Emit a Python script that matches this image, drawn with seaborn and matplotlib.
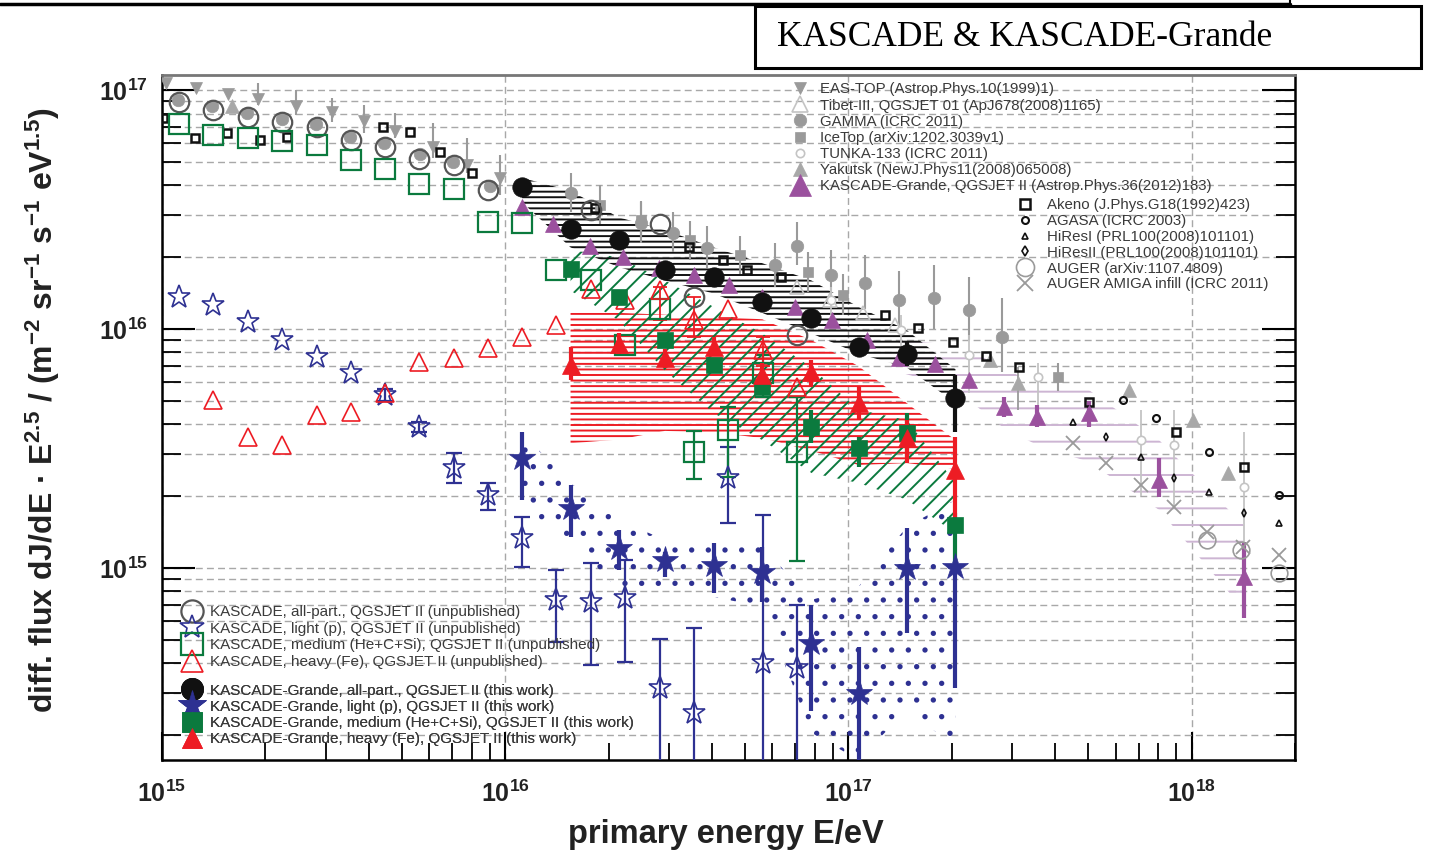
import numpy as np
import matplotlib
matplotlib.use('Agg')
import matplotlib.pyplot as plt
import seaborn as sns
from matplotlib.lines import Line2D
from matplotlib.patches import Rectangle
from matplotlib.ticker import LogLocator, NullFormatter, LogFormatterMathtext

sns.set_theme(style='white')
plt.rcParams['font.family'] = ['Liberation Sans', 'DejaVu Sans']
plt.rcParams['mathtext.fontset'] = 'custom'
plt.rcParams['mathtext.rm'] = 'Liberation Sans'
plt.rcParams['mathtext.it'] = 'Liberation Sans:italic'
plt.rcParams['mathtext.bf'] = 'Liberation Sans:bold'
plt.rcParams['mathtext.default'] = 'regular'
plt.rcParams['hatch.linewidth'] = 1.4

# ---------------- data ----------------
# KASCADE (unpublished) bins
kas_E = [1.12e15, 1.41e15, 1.78e15, 2.24e15, 2.82e15, 3.55e15, 4.47e15, 5.62e15, 7.08e15, 8.91e15,
         1.12e16, 1.41e16, 1.78e16, 2.24e16, 2.82e16, 3.55e16, 4.47e16, 5.62e16, 7.08e16]
kas_all_E = [1.12e15, 1.41e15, 1.78e15, 2.24e15, 2.82e15, 3.55e15, 4.47e15, 5.62e15, 7.08e15, 8.91e15,
             1.78e16, 2.82e16, 3.55e16, 7.08e16]
kas_all_F = [8.91e16, 8.24e16, 7.73e16, 7.36e16, 7.02e16, 6.18e16, 5.79e16, 5.18e16, 4.85e16, 3.82e16,
             3.15e16, 2.77e16, 1.37e16, 9.45e15]
kas_light_F = [1.36e16, 1.26e16, 1.07e16, 9.0e15, 7.66e15, 6.53e15, 5.30e15, 3.90e15, 2.61e15, 2.02e15,
               1.33e15, 7.35e14, 7.23e14, 7.46e14, 3.14e14, 2.47e14, 2.37e15, 3.99e14, 3.80e14]
kas_light_lo = [1.36e16, 1.26e16, 1.07e16, 9.0e15, 7.66e15, 6.53e15, 5.0e15, 3.7e15, 2.27e15, 1.75e15,
                1.01e15, 4.92e14, 3.93e14, 4.04e14, 1e14, 1e14, 1.54e15, 1e14, 1e14]
kas_light_hi = [1.36e16, 1.26e16, 1.07e16, 9.0e15, 7.66e15, 6.53e15, 5.6e15, 4.1e15, 3.03e15, 2.27e15,
                1.64e15, 9.8e14, 1.05e15, 1.08e15, 5.05e14, 5.61e14, 3.22e15, 1.67e15, 7.0e14]
kas_med_F = [7.26e16, 6.49e16, 6.34e16, 6.14e16, 5.89e16, 5.13e16, 4.70e16, 4.07e16, 3.85e16, 2.81e16,
             2.78e16, 1.77e16, 1.60e16, 8.57e15, 1.22e16, 3.07e15, 3.78e15, 6.53e15, 3.07e15]
kas_med_lo = [7.26e16, 6.49e16, 6.34e16, 6.14e16, 5.89e16, 5.13e16, 4.70e16, 4.07e16, 3.85e16, 2.81e16,
              2.78e16, 1.77e16, 1.60e16, 8.57e15, 1.22e16, 2.35e15, 2.4e15, 5.2e15, 1.07e15]
kas_med_hi = [7.26e16, 6.49e16, 6.34e16, 6.14e16, 5.89e16, 5.13e16, 4.70e16, 4.07e16, 3.85e16, 2.81e16,
              2.78e16, 1.77e16, 1.60e16, 8.57e15, 1.22e16, 3.74e15, 4.7e15, 7.8e15, 5.2e15]
kas_heavy_E = [1.41e15, 1.78e15, 2.24e15, 2.82e15, 3.55e15, 4.47e15, 5.62e15, 7.08e15, 8.91e15,
               1.12e16, 1.41e16, 1.78e16, 2.24e16, 2.82e16, 3.55e16, 4.47e16, 5.62e16, 7.08e16]
kas_heavy_F = [5.05e15, 3.53e15, 3.27e15, 4.37e15, 4.50e15, 5.40e15, 7.28e15, 7.56e15, 8.34e15,
               9.27e15, 1.04e16, 1.48e16, 1.32e16, 1.46e16, 1.09e16, 1.22e16, 8.17e15, 5.72e15]
kas_heavy_lo = [5.05e15, 3.53e15, 3.27e15, 4.37e15, 4.50e15, 5.40e15, 7.28e15, 7.56e15, 8.34e15,
                9.27e15, 1.04e16, 1.48e16, 1.32e16, 1.09e16, 9.3e15, 1.22e16, 7.0e15, 5.72e15]
kas_heavy_hi = [5.05e15, 3.53e15, 3.27e15, 4.37e15, 4.50e15, 5.40e15, 7.28e15, 7.56e15, 8.34e15,
                9.27e15, 1.04e16, 1.48e16, 1.32e16, 1.5e16, 1.37e16, 1.22e16, 9.3e15, 5.72e15]

# KASCADE-Grande (this work)
gr_E = [1.12e16, 1.55e16, 2.14e16, 2.92e16, 4.05e16, 5.61e16, 7.80e16, 1.07e17, 1.48e17, 2.05e17]
gr_all_F = [3.94e16, 2.64e16, 2.36e16, 1.77e16, 1.66e16, 1.30e16, 1.11e16, 8.43e15, 7.91e15, 5.13e15]
gr_all_lo = [3.85e16, 2.58e16, 2.30e16, 1.73e16, 1.61e16, 1.25e16, 1.05e16, 7.8e15, 7.0e15, 3.72e15]
gr_all_hi = [4.05e16, 2.70e16, 2.42e16, 1.82e16, 1.71e16, 1.35e16, 1.17e16, 9.1e15, 8.9e15, 6.43e15]
gr_all_band_hi = [4.3e16, 3.8e16, 2.94e16, 2.6e16, 2.2e16, 1.89e16, 1.6e16, 1.24e16, 9.9e15, 6.8e15]
gr_all_band_lo = [3.4e16, 2.2e16, 1.82e16, 1.6e16, 1.41e16, 1.17e16, 9.6e15, 7.9e15, 6.9e15, 4.9e15]

gr_light_F = [2.88e15, 1.78e15, 1.21e15, 1.08e15, 1.03e15, 9.66e14, 4.84e14, 2.99e14, 9.98e14, 1.01e15]
gr_light_lo = [1.93e15, 1.35e15, 9.8e14, 9.2e14, 7.83e14, 7.23e14, 2.51e14, 1e14, 5.33e14, 3.14e14]
gr_light_hi = [3.72e15, 2.22e15, 1.44e15, 1.17e15, 1.27e15, 1.23e15, 7.0e14, 4.69e14, 1.47e15, 1.05e15]
gr_light_band_hi = [3.67e15, 2.27e15, 1.59e15, 1.31e15, 1.27e15, 1.23e15, 7.35e14, 8.34e14, 1.49e15, 1.93e15]
gr_light_band_lo = [1.75e15, 1.31e15, 8.09e14, 7.85e14, 7.57e14, 6.87e14, 2.04e14, 1.57e14, 2.55e14, 1.78e14]

gr_mh_E = [1.55e16, 2.14e16, 2.92e16, 4.05e16, 5.61e16, 7.80e16, 1.07e17, 1.48e17, 2.05e17]
gr_med_F = [1.79e16, 1.37e16, 8.99e15, 7.07e15, 5.74e15, 3.90e15, 3.17e15, 3.66e15, 1.51e15]
gr_med_lo = [1.72e16, 1.31e16, 8.5e15, 6.7e15, 5.3e15, 3.33e15, 2.64e15, 2.91e15, 1.05e15]
gr_med_hi = [1.86e16, 1.43e16, 9.5e15, 7.5e15, 6.2e15, 4.6e15, 3.53e15, 4.45e15, 1.70e15]
gr_med_band_hi = [2.14e16, 2.0e16, 1.6e16, 1.24e16, 9.6e15, 6.9e15, 4.6e15, 4.16e15, 2.27e15]
gr_med_band_lo = [1.45e16, 1.09e16, 6.7e15, 4.45e15, 3.43e15, 2.5e15, 2.27e15, 1.93e15, 1.4e15]

gr_heavy_F = [7.07e15, 8.71e15, 7.54e15, 8.43e15, 6.43e15, 6.64e15, 4.89e15, 3.49e15, 2.57e15]
gr_heavy_lo = [6.12e15, 7.9e15, 6.9e15, 7.7e15, 5.8e15, 5.73e15, 4.16e15, 2.75e15, 1.54e15]
gr_heavy_hi = [8.43e15, 9.6e15, 8.3e15, 9.3e15, 7.2e15, 7.4e15, 5.73e15, 4.16e15, 3.54e15]
gr_heavy_band_hi = [1.17e16, 1.17e16, 1.15e16, 1.13e16, 1.1e16, 9.0e15, 7.0e15, 4.9e15, 3.43e15]
gr_heavy_band_lo = [3.33e15, 3.45e15, 3.75e15, 3.7e15, 3.5e15, 3.1e15, 2.7e15, 2.75e15, 2.6e15]

# KASCADE-Grande 2012 (Astrop.Phys.36)
kg12_E = [1.12e16, 1.38e16, 1.77e16, 2.21e16, 2.80e16, 3.54e16, 4.48e16, 5.61e16, 7.00e16, 8.96e16,
          1.13e17, 1.40e17, 1.79e17, 2.24e17, 2.84e17, 3.55e17, 5.02e17, 8.04e17, 1.42e18]
kg12_F = [3.25e16, 2.77e16, 2.24e16, 2.01e16, 1.80e16, 1.68e16, 1.53e16, 1.37e16, 1.24e16, 1.09e16,
          8.99e15, 7.54e15, 7.18e15, 6.12e15, 4.73e15, 4.30e15, 4.44e15, 2.33e15, 9.21e14]
kg12_lo = [3.25e16, 2.77e16, 2.24e16, 2.01e16, 1.80e16, 1.68e16, 1.53e16, 1.37e16, 1.24e16, 1.09e16,
           8.99e15, 7.54e15, 7.18e15, 6.12e15, 4.3e15, 3.9e15, 3.9e15, 1.98e15, 6.18e14]
kg12_hi = [3.25e16, 2.77e16, 2.24e16, 2.01e16, 1.80e16, 1.68e16, 1.53e16, 1.37e16, 1.24e16, 1.09e16,
           8.99e15, 7.54e15, 7.18e15, 6.12e15, 5.2e15, 4.8e15, 5.0e15, 2.88e15, 1.29e15]
kg12_band_E = [1.40e17, 1.79e17, 2.24e17, 2.84e17, 3.55e17, 5.02e17, 8.04e17, 1.42e18]
kg12_band_hi = [9.0e15, 8.74e15, 8.17e15, 6.87e15, 5.83e15, 5.56e15, 3.43e15, 1.51e15]
kg12_band_lo = [6.61e15, 6.0e15, 5.05e15, 3.85e15, 3.27e15, 2.78e15, 1.75e15, 6.67e14]

# other experiments
eastop_E = [1.03e15, 1.26e15, 1.56e15, 1.90e15, 2.46e15, 3.13e15, 3.88e15, 4.78e15, 6.17e15, 7.75e15, 9.66e15]
eastop_F = [1.07e17, 1.02e17, 9.62e16, 9.16e16, 8.57e16, 8.09e16, 7.41e16, 6.73e16, 5.78e16, 4.85e16, 4.28e16]
eastop_lo = [1.07e17, 1.02e17, 9.62e16, 8.65e16, 7.85e16, 7.36e16, 6.61e16, 6.3e16, 5.2e16, 4.5e16, 3.63e16]
eastop_hi = [1.07e17, 1.02e17, 9.62e16, 1.07e17, 1.0e17, 9.27e16, 8.65e16, 8.01e16, 7.28e16, 6.3e16, 5.34e16]

tibet_E = [7.10e16, 8.86e16, 1.10e17, 1.37e17]
tibet_F = [1.50e16, 1.32e16, 1.17e16, 1.04e16]

gamma_E = [1.11e15, 1.40e15, 1.77e15, 2.24e15, 2.81e15, 3.53e15, 4.44e15, 5.65e15, 7.05e15, 9.04e15,
           1.55e16, 2.48e16, 3.09e16, 3.88e16, 6.12e16, 7.10e16, 8.87e16, 1.12e17, 1.40e17, 1.77e17,
           2.24e17, 2.81e17]
gamma_F = [9.08e16, 8.57e16, 8.01e16, 7.57e16, 7.21e16, 6.35e16, 6.00e16, 5.40e16, 5.00e16, 3.97e16,
           3.71e16, 2.78e16, 2.52e16, 2.18e16, 1.85e16, 2.24e16, 1.68e16, 1.56e16, 1.32e16, 1.35e16,
           1.20e16, 9.27e15]
gamma_lo = [9.08e16, 8.57e16, 8.01e16, 7.57e16, 7.21e16, 6.35e16, 6.00e16, 5.40e16, 5.00e16, 3.97e16,
            3.1e16, 2.3e16, 2.1e16, 1.8e16, 1.5e16, 1.85e16, 1.35e16, 1.22e16, 1.0e16, 1.0e16,
            9.0e15, 6.6e15]
gamma_hi = [9.08e16, 8.57e16, 8.01e16, 7.57e16, 7.21e16, 6.35e16, 6.00e16, 5.40e16, 5.00e16, 3.97e16,
            4.5e16, 3.4e16, 3.1e16, 2.7e16, 2.3e16, 2.8e16, 2.15e16, 2.05e16, 1.75e16, 1.85e16,
            1.65e16, 1.35e16]

icetop_E = [1.89e16, 2.48e16, 3.46e16, 4.84e16, 7.64e16, 9.66e16, 4.09e17]
icetop_F = [3.30e16, 2.86e16, 2.36e16, 2.04e16, 1.73e16, 1.39e16, 6.30e15]
icetop_lo = [2.75e16, 2.4e16, 1.95e16, 1.7e16, 1.43e16, 1.15e16, 5.5e15]
icetop_hi = [4.0e16, 3.45e16, 2.85e16, 2.45e16, 2.1e16, 1.7e16, 7.2e15]

tunka_E = [8.87e16, 1.42e17, 2.24e17, 3.56e17, 7.10e17, 8.87e17, 1.42e18]
tunka_F = [1.32e16, 9.9e15, 7.78e15, 6.30e15, 3.43e15, 3.27e15, 2.18e15]
tunka_lo = [1.15e16, 8.5e15, 5.4e15, 4.7e15, 2.0e15, 1.8e15, 6.2e14]
tunka_hi = [1.5e16, 1.15e16, 9.5e15, 7.2e15, 4.6e15, 4.6e15, 3.7e15]

yakutsk_E = [1.60e15, 2.59e17, 3.11e17, 6.55e17, 1.01e18, 1.28e18]
yakutsk_F = [8.57e16, 7.41e15, 5.94e15, 5.56e15, 4.16e15, 2.50e15]
yakutsk_lo = [8.57e16, 7.41e15, 4.6e15, 5.56e15, 4.16e15, 2.50e15]
yakutsk_hi = [8.57e16, 7.41e15, 6.93e15, 5.56e15, 4.16e15, 2.50e15]

akeno_E = [1.01e15, 1.25e15, 1.55e15, 1.93e15, 2.31e15, 4.41e15, 5.28e15, 6.46e15, 8.01e15, 1.83e16,
           3.42e16, 4.30e16, 5.08e16, 6.34e16, 1.28e17, 1.59e17, 2.01e17, 2.51e17, 3.13e17, 5.01e17,
           8.98e17, 1.42e18]
akeno_F = [7.64e16, 6.30e16, 6.61e16, 6.18e16, 6.36e16, 7.00e16, 6.67e16, 5.51e16, 4.50e16, 3.21e16,
           2.20e16, 1.94e16, 1.77e16, 1.65e16, 1.15e16, 1.01e16, 8.83e15, 7.71e15, 6.93e15, 4.95e15,
           3.71e15, 2.65e15]
agasa_E = [6.30e17, 7.85e17, 1.12e18, 1.80e18]
agasa_F = [5.05e15, 4.25e15, 3.06e15, 2.02e15]
hires1_E = [4.50e17, 7.10e17, 1.12e18, 1.80e18]
hires1_F = [4.09e15, 2.91e15, 2.08e15, 1.54e15]
hires2_E = [5.61e17, 8.87e17, 1.42e18]
hires2_F = [3.53e15, 2.38e15, 1.70e15]
auger_E = [1.11e18, 1.39e18, 1.80e18]
auger_F = [1.31e15, 1.19e15, 9.53e14]
amiga_E = [4.50e17, 5.61e17, 7.10e17, 8.87e17, 1.11e18, 1.41e18, 1.80e18]
amiga_F = [3.33e15, 2.75e15, 2.22e15, 1.80e15, 1.42e15, 1.22e15, 1.13e15]

# ---------------- styling ----------------
NAVY = '#2e3192'
GREEN = '#0b7a3e'
RED = '#ed1c24'
PURPLE = '#9b519e'
GRAY = '#9a9a9a'
LGRAY = '#c4c4c4'
DGRAY = '#555555'
TXT = '#3a3a3a'

W, Hh = 1429, 850
fig = plt.figure(figsize=(W / 100, Hh / 100), dpi=100)
ax = fig.add_axes([162 / W, 1 - 760 / Hh, (1295 - 162) / W, (760 - 75) / Hh])
ax.set_xscale('log')
ax.set_yscale('log')
ax.set_xlim(1e15, 2.0e18)
ax.set_ylim(1.57e14, 1.16e17)


def pts(x, y, marker, ms, mfc, mec, mew=1.0, z=3):
    sns.lineplot(x=x, y=y, ax=ax, marker=marker, linestyle='none', markersize=ms,
                 markerfacecolor=mfc, markeredgecolor=mec, markeredgewidth=mew, color=mec,
                 estimator=None, sort=False, errorbar=None, legend=False, zorder=z)


def bars(x, y, lo, hi, color, lw, cap=0, z=2):
    x = np.asarray(x); y = np.asarray(y); lo = np.asarray(lo); hi = np.asarray(hi)
    m = hi > lo
    if m.any():
        ax.vlines(x[m], lo[m], hi[m], colors=color, lw=lw, zorder=z)
        if cap:
            ax.errorbar(x[m], y[m], yerr=[np.maximum(y[m] - lo[m], 0), np.maximum(hi[m] - y[m], 0)],
                        fmt='none', ecolor=color, elinewidth=0, capsize=cap, capthick=lw, zorder=z)


def band(x, lo, hi, color, hatch, z=1):
    ax.fill_between(x, lo, hi, facecolor='none', edgecolor=color, hatch=hatch, linewidth=0, zorder=z)


# systematic bands
band(kg12_band_E, kg12_band_lo, kg12_band_hi, '#cdb5d3', '-', z=1)
band(gr_mh_E, gr_heavy_band_lo, gr_heavy_band_hi, RED, '---', z=1.1)
band(gr_mh_E, gr_med_band_lo, gr_med_band_hi, GREEN, '//', z=1.2)
band(gr_E, gr_all_band_lo, gr_all_band_hi, '#111111', '---', z=1.3)
band(gr_E, gr_light_band_lo, gr_light_band_hi, NAVY, '.', z=1.4)

# other experiments
bars(eastop_E, eastop_F, eastop_lo, eastop_hi, GRAY, 1.5)
pts(eastop_E, eastop_F, 'v', 9, GRAY, GRAY, 0.5)
pts(tibet_E, tibet_F, '^', 10, 'none', LGRAY, 1.2)
bars(gamma_E, gamma_F, gamma_lo, gamma_hi, GRAY, 1.5)
pts(gamma_E, gamma_F, 'o', 9, GRAY, GRAY, 0.5)
bars(icetop_E, icetop_F, icetop_lo, icetop_hi, GRAY, 1.5)
pts(icetop_E, icetop_F, 's', 7, GRAY, GRAY, 0.5)
bars(tunka_E, tunka_F, tunka_lo, tunka_hi, LGRAY, 1.3)
pts(tunka_E, tunka_F, 'o', 6, 'white', LGRAY, 1.2)
bars(yakutsk_E, yakutsk_F, yakutsk_lo, yakutsk_hi, GRAY, 1.3)
pts(yakutsk_E, yakutsk_F, '^', 10, '#a8a8a8', '#a8a8a8', 0.5)
pts(akeno_E, akeno_F, 's', 6, 'none', '#111111', 1.8)
pts(agasa_E, agasa_F, 'o', 5, 'none', '#111111', 1.5)
pts(hires1_E, hires1_F, '^', 4, 'none', '#111111', 1.2)
pts(hires2_E, hires2_F, 'd', 4, 'none', '#111111', 1.2)
pts(auger_E, auger_F, 'o', 12, 'none', GRAY, 1.2)
pts(amiga_E, amiga_F, 'x', 10, GRAY, GRAY, 1.3)
bars(kg12_E, kg12_F, kg12_lo, kg12_hi, PURPLE, 3)
pts(kg12_E, kg12_F, '^', 11, PURPLE, PURPLE, 0.5, z=3.5)

# KASCADE
bars(kas_E, kas_light_F, kas_light_lo, kas_light_hi, NAVY, 1.6, cap=6, z=3.6)
bars(kas_E, kas_med_F, kas_med_lo, kas_med_hi, GREEN, 1.6, cap=6, z=3.6)
bars(kas_heavy_E, kas_heavy_F, kas_heavy_lo, kas_heavy_hi, RED, 1.3, cap=5, z=3.6)
pts(kas_all_E, kas_all_F, 'o', 14, 'none', DGRAY, 1.6, z=4)
pts(kas_E, kas_light_F, '*', 17, 'none', NAVY, 1.2, z=4)
pts(kas_E, kas_med_F, 's', 14, 'none', GREEN, 1.6, z=4)
pts(kas_heavy_E, kas_heavy_F, '^', 13, 'none', RED, 1.2, z=4)

# KASCADE-Grande
bars(gr_E, gr_all_F, gr_all_lo, gr_all_hi, '#111111', 3, z=4.5)
bars(gr_E, gr_light_F, gr_light_lo, gr_light_hi, NAVY, 3, z=4.5)
bars(gr_mh_E, gr_med_F, gr_med_lo, gr_med_hi, GREEN, 3, z=4.5)
bars(gr_mh_E, gr_heavy_F, gr_heavy_lo, gr_heavy_hi, RED, 3, z=4.5)
pts(gr_E, gr_all_F, 'o', 14, '#111111', '#111111', 0.5, z=5)
pts(gr_mh_E, gr_med_F, 's', 12, GREEN, GREEN, 0.5, z=5)
pts(gr_mh_E, gr_heavy_F, '^', 13, RED, RED, 0.5, z=5)
pts(gr_E, gr_light_F, '*', 20, NAVY, NAVY, 0.5, z=5)

# ---------------- axes cosmetics ----------------
ax.xaxis.set_major_locator(LogLocator(base=10, numticks=20))
ax.xaxis.set_minor_locator(LogLocator(base=10, subs=np.arange(2, 10) * 1.0, numticks=100))
ax.yaxis.set_major_locator(LogLocator(base=10, numticks=20))
ax.yaxis.set_minor_locator(LogLocator(base=10, subs=np.arange(2, 10) * 1.0, numticks=100))
ax.xaxis.set_minor_formatter(NullFormatter())
ax.yaxis.set_minor_formatter(NullFormatter())
ax.xaxis.set_major_formatter(LogFormatterMathtext())
ax.yaxis.set_major_formatter(LogFormatterMathtext())

gridkw = dict(color='#a8a8a8', linestyle=(0, (5, 3)), linewidth=1.0)
ax.grid(True, axis='y', which='both', **gridkw)
ax.grid(True, axis='x', which='major', **gridkw)
ax.grid(False, axis='x', which='minor')

ax.tick_params(axis='x', which='major', direction='in', length=20, width=1.5, bottom=True, top=False,
               labelsize=18, pad=15, colors='black', labelcolor='#222222')
ax.tick_params(axis='x', which='minor', direction='in', length=12, width=1.3, bottom=True, top=False,
               colors='black')
ax.tick_params(axis='y', which='major', direction='in', length=24, width=1.5, left=True, right=True,
               labelsize=18, pad=10, colors='black', labelcolor='#222222')
ax.tick_params(axis='y', which='minor', direction='in', length=14, width=1.3, left=True, right=True,
               colors='black')
for lab in ax.get_xticklabels() + ax.get_yticklabels():
    lab.set_fontweight('bold')

for s in ['left', 'right', 'bottom']:
    ax.spines[s].set_color('black')
    ax.spines[s].set_linewidth(1.8)
ax.spines['top'].set_color('#777777')
ax.spines['top'].set_linewidth(2.0)

ax.set_xlabel('primary energy E/eV', fontsize=23.5, fontweight='bold', color='#222222')
ax.xaxis.set_label_coords(0.4975, -0.086)
ax.set_ylabel('diff. flux dJ/dE · E$^{2.5}$ / (m$^{-2}$ sr$^{-1}$ s$^{-1}$ eV$^{1.5}$)',
              fontsize=23, fontweight='bold', color='#222222')
ax.yaxis.set_label_coords(-0.088, 0.51)


# ---------------- legends ----------------
def H(marker, ms, mfc, mec, mew=1.0):
    return Line2D([], [], marker=marker, linestyle='none', markersize=ms,
                  markerfacecolor=mfc, markeredgecolor=mec, markeredgewidth=mew)


def leg(handles, labels, x, y, fs, pad, ls):
    lg = ax.legend(handles=handles, labels=labels, loc='upper left',
                   bbox_to_anchor=(x / W, 1 - y / Hh), bbox_transform=fig.transFigure,
                   frameon=False, fontsize=fs, handlelength=1.0, handletextpad=pad,
                   labelspacing=ls, borderpad=0, borderaxespad=0, labelcolor=TXT)
    lg.set_zorder(10)
    ax.add_artist(lg)
    return lg


leg([H('v', 9, GRAY, GRAY, 0.5), H('^', 11, 'none', LGRAY, 1.2), H('o', 9, GRAY, GRAY, 0.5),
     H('s', 7, GRAY, GRAY, 0.5), H('o', 6, 'white', LGRAY, 1.2), H('^', 10, '#a8a8a8', '#a8a8a8', 0.5),
     H('^', 16, PURPLE, PURPLE, 0.5)],
    ['EAS-TOP (Astrop.Phys.10(1999)1)', 'Tibet-III, QGSJET 01 (ApJ678(2008)1165)', 'GAMMA (ICRC 2011)',
     'IceTop (arXiv:1202.3039v1)', 'TUNKA-133 (ICRC 2011)', 'Yakutsk (NewJ.Phys11(2008)065008)',
     'KASCADE-Grande, QGSJET II (Astrop.Phys.36(2012)183)'],
    792.5, 82.5, 10.8, 0.83, 0.14)

leg([H('s', 7, 'none', '#111111', 1.8), H('o', 5, 'none', '#111111', 1.5), H('^', 5, 'none', '#111111', 1.2),
     H('d', 5, 'none', '#111111', 1.2), H('o', 13, 'none', GRAY, 1.2), H('x', 12, GRAY, GRAY, 1.3)],
    ['Akeno (J.Phys.G18(1992)423)', 'AGASA (ICRC 2003)', 'HiResI (PRL100(2008)101101)',
     'HiResII (PRL100(2008)101101)', 'AUGER (arXiv:1107.4809)', 'AUGER AMIGA infill (ICRC 2011)'],
    1017.5, 198.3, 10.8, 0.97, 0.12)

leg([H('o', 16, 'none', DGRAY, 1.6), H('*', 18, 'none', NAVY, 1.2), H('s', 16, 'none', GREEN, 1.6),
     H('^', 16, 'none', RED, 1.2)],
    ['KASCADE, all-part., QGSJET II (unpublished)', 'KASCADE, light (p), QGSJET II (unpublished)',
     'KASCADE, medium (He+C+Si), QGSJET II (unpublished)', 'KASCADE, heavy (Fe), QGSJET II (unpublished)'],
    184.4, 605, 11, 0.67, 0.18)

leg([H('o', 16, '#111111', '#111111', 0.5), H('*', 21, NAVY, NAVY, 0.5), H('s', 15, GREEN, GREEN, 0.5),
     H('^', 15, RED, RED, 0.5)],
    ['KASCADE-Grande, all-part., QGSJET II (this work)', 'KASCADE-Grande, light (p), QGSJET II (this work)',
     'KASCADE-Grande, medium (He+C+Si), QGSJET II (this work)',
     'KASCADE-Grande, heavy (Fe), QGSJET II (this work)'],
    184.4, 683.5, 11, 0.67, 0.15)

# ---------------- header ----------------
fig.add_artist(Line2D([0, 1290 / W], [1 - 4 / Hh, 1 - 4 / Hh], transform=fig.transFigure,
                      color='black', lw=2.5))
fig.add_artist(Line2D([1290 / W, 1290 / W], [1, 1 - 4 / Hh], transform=fig.transFigure,
                      color='black', lw=1.5))
fig.add_artist(Rectangle((755 / W, 1 - 68 / Hh), 666 / W, 62 / Hh, transform=fig.transFigure,
                         fill=False, lw=2.2, edgecolor='black'))
fig.text(777 / W, 1 - 38 / Hh, 'KASCADE & KASCADE-Grande', family='Liberation Serif',
         fontsize=25.5, va='center', ha='left', color='black')

fig.savefig('out.png', dpi=100)
